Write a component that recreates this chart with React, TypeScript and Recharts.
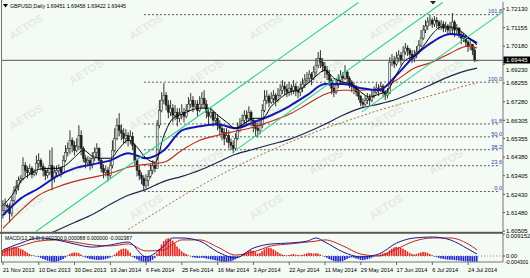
import React from 'react';
import { ComposedChart, Bar, Line, XAxis, YAxis, ReferenceLine, Cell } from 'recharts';

// ---------- palette / type ----------
const BG = '#f4faf4';
const INK = '#1e1e1e';
const FONT = "'Liberation Sans', Arial, sans-serif";
const GREEN = '#38d08e';

// ---------- header texts ----------
const symbolHeader = 'GBPUSD,Daily 1.69451 1.69458 1.69422 1.69445';
const macdHeader = 'MACD(12,26,9) 0.002300 0.000088 0.000000 -0.002387';
const watermark = 'AETOS';

// ---------- time axis ----------
const dateTickIdx = [0, 16, 32, 48, 64, 80, 96, 112, 128, 144, 160, 176, 192, 208];
const dateLabels = [
  '21 Nov 2013', '10 Dec 2013', '30 Dec 2013', '19 Jan 2014', '6 Feb 2014', '25 Feb 2014', '16 Mar 2014',
  '3 Apr 2014', '22 Apr 2014', '11 May 2014', '29 May 2014', '17 Jun 2014', '6 Jul 2014', '24 Jul 2014',
];

// ---------- price axis ----------
const priceTicks = [1.7213, 1.71155, 1.7018, 1.6923, 1.68255, 1.6728, 1.66305, 1.65355, 1.6438, 1.63405, 1.6243, 1.6148, 1.60505];
const lastPrice = 1.69445;
const tickUnderBox = 1.6923;

// ---------- daily bars (open = previous close) ----------
const firstOpen = 1.6138;
const closes = [
  1.6159, 1.6185, 1.6180, 1.6143, 1.6212, 1.6264, 1.6285, 1.6317, 1.6327, 1.6395,
  1.6369, 1.6358, 1.6379, 1.6348, 1.6358, 1.6406, 1.6421, 1.6390, 1.6369, 1.6343,
  1.6358, 1.6395, 1.6327, 1.6358, 1.6369, 1.6379, 1.6358, 1.6421, 1.6463, 1.6484,
  1.6526, 1.6500, 1.6474, 1.6494, 1.6552, 1.6484, 1.6432, 1.6411, 1.6421, 1.6395,
  1.6432, 1.6463, 1.6484, 1.6421, 1.6379, 1.6358, 1.6369, 1.6343, 1.6395, 1.6474,
  1.6536, 1.6605, 1.6578, 1.6563, 1.6536, 1.6552, 1.6526, 1.6547, 1.6500, 1.6421,
  1.6369, 1.6343, 1.6327, 1.6290, 1.6317, 1.6337, 1.6369, 1.6395, 1.6379, 1.6605,
  1.6683, 1.6736, 1.6762, 1.6710, 1.6673, 1.6694, 1.6657, 1.6673, 1.6641, 1.6662,
  1.6673, 1.6652, 1.6683, 1.6715, 1.6736, 1.6704, 1.6715, 1.6683, 1.6715, 1.6746,
  1.6715, 1.6673, 1.6652, 1.6673, 1.6631, 1.6641, 1.6605, 1.6589, 1.6568, 1.6536,
  1.6552, 1.6515, 1.6500, 1.6484, 1.6536, 1.6578, 1.6605, 1.6631, 1.6657, 1.6641,
  1.6673, 1.6631, 1.6605, 1.6589, 1.6578, 1.6605, 1.6683, 1.6736, 1.6757, 1.6725,
  1.6746, 1.6762, 1.6736, 1.6762, 1.6788, 1.6809, 1.6794, 1.6778, 1.6799, 1.6788,
  1.6809, 1.6788, 1.6778, 1.6799, 1.6820, 1.6841, 1.6851, 1.6872, 1.6851, 1.6883,
  1.6919, 1.6956, 1.6935, 1.6914, 1.6893, 1.6872, 1.6841, 1.6799, 1.6778, 1.6815,
  1.6841, 1.6862, 1.6851, 1.6883, 1.6851, 1.6830, 1.6809, 1.6799, 1.6778, 1.6757,
  1.6725, 1.6715, 1.6736, 1.6746, 1.6736, 1.6762, 1.6778, 1.6799, 1.6788, 1.6809,
  1.6778, 1.6762, 1.6773, 1.6935, 1.6946, 1.6925, 1.6956, 1.6972, 1.6946, 1.6988,
  1.7009, 1.6998, 1.6977, 1.6956, 1.6972, 1.6988, 1.7024, 1.7061, 1.7103, 1.7124,
  1.7145, 1.7155, 1.7134, 1.7155, 1.7145, 1.7124, 1.7134, 1.7113, 1.7124, 1.7103,
  1.7113, 1.7145, 1.7103, 1.7113, 1.7082, 1.7061, 1.7071, 1.7040, 1.7019, 1.7029,
  1.6998, 1.69451, 1.69445,
];
const highs = [
  1.6212, 1.6222, 1.6196, 1.6196, 1.6233, 1.6285, 1.6317, 1.6337, 1.6343, 1.6437,
  1.6411, 1.6390, 1.6400, 1.6390, 1.6374, 1.6447, 1.6458, 1.6432, 1.6406, 1.6385,
  1.6379, 1.6474, 1.6489, 1.6390, 1.6395, 1.6400, 1.6390, 1.6447, 1.6500, 1.6515,
  1.6578, 1.6541, 1.6521, 1.6536, 1.6605, 1.6578, 1.6494, 1.6447, 1.6442, 1.6437,
  1.6463, 1.6489, 1.6510, 1.6489, 1.6432, 1.6400, 1.6395, 1.6385, 1.6421, 1.6526,
  1.6589, 1.6641, 1.6668, 1.6610, 1.6589, 1.6584, 1.6568, 1.6578, 1.6568, 1.6510,
  1.6432, 1.6395, 1.6358, 1.6343, 1.6348, 1.6369, 1.6400, 1.6421, 1.6411, 1.6631,
  1.6736, 1.6778, 1.6825, 1.6778, 1.6736, 1.6736, 1.6715, 1.6710, 1.6694, 1.6694,
  1.6715, 1.6694, 1.6715, 1.6752, 1.6773, 1.6757, 1.6736, 1.6736, 1.6757, 1.6778,
  1.6788, 1.6736, 1.6694, 1.6694, 1.6683, 1.6673, 1.6662, 1.6631, 1.6610, 1.6589,
  1.6589, 1.6578, 1.6536, 1.6526, 1.6563, 1.6620, 1.6641, 1.6662, 1.6683, 1.6683,
  1.6704, 1.6683, 1.6641, 1.6631, 1.6620, 1.6631, 1.6715, 1.6788, 1.6788, 1.6767,
  1.6778, 1.6788, 1.6773, 1.6799, 1.6820, 1.6841, 1.6830, 1.6820, 1.6830, 1.6820,
  1.6841, 1.6825, 1.6809, 1.6825, 1.6851, 1.6872, 1.6883, 1.6893, 1.6883, 1.6914,
  1.6956, 1.6988, 1.6998, 1.6956, 1.6935, 1.6914, 1.6893, 1.6851, 1.6820, 1.6851,
  1.6872, 1.6893, 1.6883, 1.6919, 1.6893, 1.6862, 1.6841, 1.6830, 1.6815, 1.6799,
  1.6762, 1.6746, 1.6757, 1.6773, 1.6767, 1.6788, 1.6809, 1.6825, 1.6820, 1.6830,
  1.6820, 1.6788, 1.6799, 1.6961, 1.6977, 1.6967, 1.6988, 1.6998, 1.6988, 1.7019,
  1.7035, 1.7024, 1.7009, 1.6998, 1.6998, 1.7019, 1.7050, 1.7103, 1.7129, 1.7155,
  1.7171, 1.7182, 1.7166, 1.7176, 1.7171, 1.7155, 1.7155, 1.7150, 1.7145, 1.7134,
  1.7145, 1.7192, 1.7155, 1.7134, 1.7119, 1.7092, 1.7087, 1.7077, 1.7050, 1.7050,
  1.7029, 1.7014, 1.69458,
];
const lows = [
  1.6117, 1.6138, 1.6170, 1.6096, 1.6127, 1.6201, 1.6243, 1.6264, 1.6301, 1.6317,
  1.6337, 1.6327, 1.6343, 1.6327, 1.6337, 1.6343, 1.6379, 1.6369, 1.6337, 1.6317,
  1.6327, 1.6343, 1.6264, 1.6306, 1.6337, 1.6348, 1.6332, 1.6348, 1.6411, 1.6442,
  1.6453, 1.6463, 1.6447, 1.6463, 1.6474, 1.6447, 1.6411, 1.6379, 1.6390, 1.6369,
  1.6379, 1.6416, 1.6432, 1.6400, 1.6358, 1.6327, 1.6337, 1.6311, 1.6327, 1.6379,
  1.6463, 1.6526, 1.6547, 1.6526, 1.6505, 1.6510, 1.6494, 1.6505, 1.6474, 1.6395,
  1.6337, 1.6317, 1.6296, 1.6264, 1.6275, 1.6285, 1.6327, 1.6348, 1.6358, 1.6379,
  1.6589, 1.6673, 1.6715, 1.6683, 1.6641, 1.6652, 1.6620, 1.6631, 1.6599, 1.6620,
  1.6636, 1.6620, 1.6641, 1.6673, 1.6694, 1.6673, 1.6694, 1.6652, 1.6673, 1.6694,
  1.6694, 1.6641, 1.6610, 1.6641, 1.6599, 1.6605, 1.6578, 1.6552, 1.6526, 1.6500,
  1.6515, 1.6484, 1.6474, 1.6458, 1.6474, 1.6526, 1.6568, 1.6589, 1.6610, 1.6610,
  1.6620, 1.6599, 1.6568, 1.6547, 1.6541, 1.6557, 1.6589, 1.6673, 1.6715, 1.6699,
  1.6715, 1.6720, 1.6704, 1.6725, 1.6752, 1.6767, 1.6762, 1.6752, 1.6757, 1.6762,
  1.6767, 1.6757, 1.6746, 1.6757, 1.6778, 1.6799, 1.6820, 1.6830, 1.6815, 1.6841,
  1.6862, 1.6904, 1.6904, 1.6883, 1.6851, 1.6841, 1.6809, 1.6767, 1.6752, 1.6767,
  1.6799, 1.6820, 1.6825, 1.6841, 1.6820, 1.6799, 1.6778, 1.6767, 1.6757, 1.6736,
  1.6704, 1.6694, 1.6704, 1.6715, 1.6704, 1.6725, 1.6746, 1.6767, 1.6757, 1.6778,
  1.6752, 1.6736, 1.6746, 1.6767, 1.6914, 1.6904, 1.6914, 1.6935, 1.6919, 1.6946,
  1.6972, 1.6967, 1.6946, 1.6930, 1.6935, 1.6956, 1.6977, 1.7014, 1.7050, 1.7087,
  1.7103, 1.7124, 1.7113, 1.7119, 1.7113, 1.7103, 1.7103, 1.7092, 1.7092, 1.7082,
  1.7087, 1.7082, 1.7066, 1.7082, 1.7061, 1.7029, 1.7040, 1.7014, 1.6988, 1.6998,
  1.6972, 1.6935, 1.69422,
];

// ---------- moving averages (sampled along the bars) ----------
const fastIdx = [
  0, 4, 8, 12, 16, 20, 24, 28, 32, 36, 40, 44, 48, 52, 56, 60, 64, 68, 72, 76, 80, 84, 88, 92, 96, 100,
  104, 108, 112, 116, 120, 124, 128, 132, 136, 140, 144, 148, 152, 156, 160, 164, 168, 172, 176, 180,
  184, 188, 192, 196, 200, 204, 208, 212,
];
const fastMa = [
  1.6185, 1.6238, 1.6311, 1.6348, 1.6374, 1.6379, 1.6379, 1.6395, 1.6437, 1.6474, 1.6442, 1.6432, 1.6432,
  1.6484, 1.6526, 1.6489, 1.6432, 1.6411, 1.6552, 1.6641, 1.6662, 1.6683, 1.6694, 1.6694, 1.6657, 1.6621,
  1.6589, 1.6615, 1.6641, 1.6641, 1.6704, 1.6746, 1.6778, 1.6788, 1.6820, 1.6862, 1.6893, 1.6851, 1.6830,
  1.6820, 1.6778, 1.6752, 1.6767, 1.6788, 1.6872, 1.6946, 1.6967, 1.7019, 1.7082, 1.7119, 1.7119, 1.7103,
  1.7066, 1.7024,
];
const slowIdx = [
  0, 8, 16, 24, 32, 40, 48, 56, 64, 72, 80, 88, 96, 104, 112, 120, 128, 136, 144, 152, 160, 168, 176,
  184, 192, 200, 208, 212,
];
const blueMa = [
  1.6133, 1.6222, 1.6275, 1.6337, 1.6379, 1.6400, 1.6421, 1.6458, 1.6432, 1.6474, 1.6578, 1.6599, 1.6610,
  1.6589, 1.6620, 1.6657, 1.6704, 1.6762, 1.6820, 1.6820, 1.6799, 1.6788, 1.6867, 1.6967, 1.7040, 1.7082,
  1.7061, 1.7035,
];
const redMa = [
  1.6065, 1.6159, 1.6238, 1.6280, 1.6311, 1.6332, 1.6353, 1.6385, 1.6400, 1.6411, 1.6474, 1.6526, 1.6552,
  1.6573, 1.6594, 1.6626, 1.6662, 1.6715, 1.6767, 1.6788, 1.6788, 1.6794, 1.6841, 1.6904, 1.6935, 1.6982,
  1.7019, 1.7009,
];
const navyMa = [
  1.5939, 1.5970, 1.6012, 1.6054, 1.6096, 1.6138, 1.6191, 1.6238, 1.6269, 1.6311, 1.6337, 1.6369, 1.6411,
  1.6453, 1.6479, 1.6505, 1.6531, 1.6568, 1.6610, 1.6657, 1.6694, 1.6715, 1.6741, 1.6778, 1.6820, 1.6862,
  1.6893, 1.6904,
];
const dottedIdx = [56, 64, 72, 80, 88, 96, 104, 112, 120, 128, 136, 144, 152, 160, 168, 176, 184, 192, 200, 208, 212];
const dottedMa = [
  1.6059, 1.6117, 1.6175, 1.6233, 1.6285, 1.6337, 1.6385, 1.6432, 1.6474, 1.6515, 1.6552, 1.6589, 1.6620,
  1.6652, 1.6683, 1.6710, 1.6736, 1.6762, 1.6788, 1.6815, 1.6825,
];

// ---------- drawn objects ----------
// channel rays: [bar, price] -> [bar, price]
const channelLines = [
  { from: [14.72, 1.60486], to: [158.96, 1.72471] },
  { from: [102.86, 1.64642], to: [196.6, 1.72471] },
  { from: [160.55, 1.66745], to: [223.5, 1.71979] },
];
// Fibonacci retracement between the February low and high
const fibLow = 1.6258;
const fibHigh = 1.683;
const fibStartBar = 63;
const fibEndBar = 222.3;
const fibRatios = [0, 23.6, 38.2, 50, 61.8, 100, 161.8];

// ---------- MACD ----------
const histogram = [
  0.0025, 0.0030, 0.0033, 0.0035, 0.0036, 0.0037, 0.0036, 0.0034, 0.0030, 0.0026, 0.0020, 0.0014, 0.0008, 0.0004,
  0.0002, -0.0002, -0.0003,
  -0.0008, -0.0012, -0.0016, -0.0019, -0.0021, -0.0024, -0.0025, -0.0024, -0.0021, -0.0017, -0.0012, -0.0006,
  0.0003, 0.0008, 0.0012, 0.0015, 0.0014, 0.0012, 0.0006,
  -0.0002, -0.0006, -0.0009, -0.0012, -0.0014, -0.0015, -0.0016, -0.0017, -0.0016, -0.0015, -0.0013, -0.0010, -0.0006, -0.0002,
  0.0006, 0.0014, 0.0022, 0.0028, 0.0031, 0.0030, 0.0024, 0.0014,
  -0.0003, -0.0008, -0.0014, -0.0019, -0.0023, -0.0025, -0.0025, -0.0025, -0.0022, -0.0016, -0.0008,
  0.0010, 0.0030, 0.0048, 0.0062, 0.0070, 0.0074, 0.0072, 0.0064, 0.0052, 0.0040,
  0.0030, 0.0020, 0.0013, 0.0008,
  0.0003, -0.0002, -0.0005, -0.0007, -0.0008, -0.0008, -0.0007,
  -0.0008, -0.0010, -0.0012, -0.0014, -0.0016, -0.0018, -0.0020, -0.0022, -0.0024, -0.0025, -0.0025, -0.0024, -0.0022,
  -0.0019, -0.0014, -0.0008, -0.0002,
  0.0006, 0.0012, 0.0018, 0.0022, 0.0024, 0.0022, 0.0016, 0.0010,
  0.0012, 0.0020, 0.0028, 0.0033, 0.0034, 0.0032, 0.0028, 0.0022, 0.0016, 0.0010,
  0.0006, 0.0004, 0.0003, 0.0004, 0.0006, 0.0008, 0.0006, 0.0004, 0.0003, 0.0005, 0.0008, 0.0011, 0.0013, 0.0012,
  0.0010, 0.0012, 0.0010, 0.0006,
  0.0001, -0.0003,
  -0.0007, -0.0012, -0.0017, -0.0021, -0.0023, -0.0024, -0.0023, -0.0021, -0.0017, -0.0012,
  -0.0008, -0.0006, -0.0007,
  -0.0010, -0.0013, -0.0016, -0.0017, -0.0016, -0.0014, -0.0011, -0.0007, -0.0003,
  0.0001, 0.0004, 0.0007, 0.0010, 0.0012,
  0.0016, 0.0024, 0.0030, 0.0035, 0.0038, 0.0037, 0.0034, 0.0030, 0.0025, 0.0019,
  0.0013, 0.0008, 0.0006,
  0.0008, 0.0012, 0.0015, 0.0017, 0.0016, 0.0013, 0.0008, 0.0003,
  -0.0002, -0.0005, -0.0008, -0.0010, -0.0012, -0.0014, -0.0015, -0.0016, -0.0016, -0.0017, -0.0018, -0.0019,
  -0.0020, -0.0021, -0.0022, -0.0023, -0.0023, -0.0024, -0.0024, -0.002387,
];
const macdIdx = [0, 8, 16, 24, 32, 40, 48, 56, 64, 72, 76, 80, 88, 96, 104, 112, 120, 128, 136, 140, 144, 152, 160, 168, 176, 184, 192, 200, 208, 212];
const macdMain = [
  0.0025, 0.0054, 0.0075, 0.0067, 0.0050, 0.0037, 0.0046, 0.0058, -0.0004, 0.0042, 0.0075, 0.0075, 0.0062, 0.0017,
  -0.0008, 0.0033, 0.0050, 0.0054, 0.0062, 0.0075, 0.0058, 0.0017, -0.0004, 0.0008, 0.0054, 0.0075, 0.0079, 0.0067,
  0.0029, 0.0008,
];
const macdSignal = [
  0.0017, 0.0042, 0.0062, 0.0067, 0.0058, 0.0046, 0.0042, 0.0050, 0.0021, 0.0025, 0.0050, 0.0067, 0.0067, 0.0037,
  0.0004, 0.0017, 0.0042, 0.0050, 0.0058, 0.0062, 0.0067, 0.0042, 0.0008, 0.0, 0.0029, 0.0062, 0.0075, 0.0075,
  0.0050, 0.0025,
];
const macdTop = 0.009152;
const macdBottom = -0.0025;
const macdMinLabel = '-0.004301';

// ---------- table for the charts ----------
type Row = { [k: string]: any };
const rows: Row[] = closes.map((c, i) => ({
  i,
  o: i === 0 ? firstOpen : closes[i - 1],
  h: highs[i],
  l: lows[i],
  c,
  range: [lows[i], highs[i]],
  hist: histogram[i],
}));
const attach = (key: string, idx: number[], vals: number[]) => {
  idx.forEach((ix, k) => {
    rows[ix][key] = vals[k];
  });
};
attach('fast', fastIdx, fastMa);
attach('blue', slowIdx, blueMa);
attach('red', slowIdx, redMa);
attach('navy', slowIdx, navyMa);
attach('dotted', dottedIdx, dottedMa);
attach('macd', macdIdx, macdMain);
attach('signal', macdIdx, macdSignal);

const X_DOMAIN: [number, number] = [-0.447, 223.6];

// ---------- custom marks ----------
const Candle = (props: any) => {
  const { x, y, width, height, payload } = props;
  if (!payload || height == null) return null;
  const { o, h, l, c } = payload;
  const cx = x + width / 2;
  const k = h - l > 0 ? height / (h - l) : 0;
  const yO = y + (h - Math.min(Math.max(o, l), h)) * k;
  const yC = y + (h - c) * k;
  const top = Math.min(yO, yC);
  const bh = Math.max(Math.abs(yO - yC), 0.7);
  const bull = c >= o;
  return (
    <g>
      <line x1={cx} x2={cx} y1={y} y2={y + Math.max(height, 0.7)} stroke={INK} strokeWidth={0.9} />
      <rect x={cx - 1} y={top} width={2} height={bh} fill={bull ? '#dfe8df' : INK} stroke={INK} strokeWidth={0.5} />
    </g>
  );
};

const PriceTick = (p: any) => {
  const v = Number(p.payload.value);
  // the label hidden behind the last-price box peeks out just below it
  const shift = v === tickUnderBox ? 5 : 0;
  return (
    <text x={506} y={p.y + 2.2 + shift} fontSize={6} fontFamily={FONT} fill="#000">
      {v.toFixed(5)}
    </text>
  );
};

const DateTick = (p: any) => {
  const k = dateTickIdx.indexOf(p.payload.value);
  return (
    <text x={p.x} y={39} fontSize={5.6} fontFamily={FONT} fill="#000">
      {k >= 0 ? dateLabels[k] : ''}
    </text>
  );
};

const MacdTick = (p: any) => {
  const v = Number(p.payload.value);
  const label = v === 0 ? '0.00' : v.toFixed(6);
  return (
    <text x={506} y={p.y + (v === 0 ? 2 : 4.2)} fontSize={5.8} fontFamily={FONT} fill="#000">
      {label}
    </text>
  );
};

const FibLabel = (props: any) => {
  const vb = props.viewBox || {};
  const x = (vb.x ?? 0) + (vb.width ?? 0) + 2;
  const y = vb.y ?? 0;
  return (
    <text x={x} y={y - 1.2} textAnchor="end" fontSize={5.6} fontFamily={FONT} fill="#3346b0">
      {props.text}
    </text>
  );
};

const fmtFib = (r: number) => r.toFixed(1);

export default function App() {
  const marks: React.ReactNode[] = [];
  for (let r = 0; r < 5; r++) {
    for (let c = 0; c < 4; c++) {
      const x = c * 120 + (r % 2) * 60 + 12;
      const y = 40 + r * 45;
      marks.push(
        <text
          key={`wm-${r}-${c}`}
          x={x}
          y={y}
          transform={`rotate(-32 ${x} ${y})`}
          fontSize={11}
          fontWeight="bold"
          fontFamily={FONT}
          fill="#6f7f6f"
          opacity={0.12}
        >
          {watermark}
        </text>,
      );
    }
  }

  return (
    <div style={{ position: 'absolute', left: 0, top: 0, width: 530, height: 278, background: BG, overflow: 'hidden' }}>
      {/* price window */}
      <div style={{ position: 'absolute', left: 0, top: 0 }}>
        <ComposedChart width={530} height={233} data={rows} margin={{ top: 2, right: 0, bottom: 1, left: 2 }}>
          <XAxis type="number" dataKey="i" domain={X_DOMAIN} allowDataOverflow hide />
          <YAxis
            orientation="right"
            width={27}
            domain={[1.6046, 1.72497]}
            allowDataOverflow
            ticks={priceTicks}
            interval={0}
            tick={<PriceTick />}
            tickSize={2}
            tickLine={{ stroke: '#555' }}
            axisLine={{ stroke: '#777' }}
          />
          {fibRatios.map((r) => {
            const p = fibLow + (fibHigh - fibLow) * (r / 100);
            return (
              <ReferenceLine
                key={`fib-${r}`}
                segment={[{ x: fibStartBar, y: p }, { x: fibEndBar, y: p }]}
                stroke="#333"
                strokeDasharray="2 2"
                strokeWidth={0.8}
                label={<FibLabel text={fmtFib(r)} />}
              />
            );
          })}
          <ReferenceLine y={lastPrice} stroke="#555" strokeWidth={1} />
          <Bar dataKey="range" barSize={2} shape={<Candle />} isAnimationActive={false} />
          <Line dataKey="dotted" stroke="#b8663e" strokeWidth={1} strokeDasharray="2 2" dot={false} connectNulls type="monotone" isAnimationActive={false} />
          <Line dataKey="navy" stroke="#23234f" strokeWidth={1.2} dot={false} connectNulls type="monotone" isAnimationActive={false} />
          <Line dataKey="red" stroke="#c0281c" strokeWidth={1.1} dot={false} connectNulls type="monotone" isAnimationActive={false} />
          <Line dataKey="blue" stroke="#1515b4" strokeWidth={2} dot={false} connectNulls type="monotone" isAnimationActive={false} />
          <Line dataKey="fast" stroke="#000" strokeWidth={1} dot={false} connectNulls type="monotone" isAnimationActive={false} />
          {channelLines.map((ln, k) => (
            <ReferenceLine
              key={`ch-${k}`}
              segment={[{ x: ln.from[0], y: ln.from[1] }, { x: ln.to[0], y: ln.to[1] }]}
              stroke={GREEN}
              strokeWidth={1.1}
            />
          ))}
        </ComposedChart>
      </div>

      {/* MACD window with the time axis */}
      <div style={{ position: 'absolute', left: 0, top: 233 }}>
        <ComposedChart width={530} height={45} data={rows} margin={{ top: 1, right: 0, bottom: 0, left: 2 }}>
          <XAxis
            type="number"
            dataKey="i"
            domain={X_DOMAIN}
            allowDataOverflow
            ticks={dateTickIdx}
            interval={0}
            tick={<DateTick />}
            height={16}
            tickSize={3}
            tickLine={{ stroke: '#666' }}
            axisLine={{ stroke: '#777' }}
          />
          <YAxis
            orientation="right"
            width={27}
            domain={[macdBottom, macdTop]}
            allowDataOverflow
            ticks={[macdTop, 0]}
            interval={0}
            tick={<MacdTick />}
            tickSize={2}
            tickLine={{ stroke: '#555' }}
            axisLine={{ stroke: '#777' }}
          />
          <ReferenceLine y={0} stroke="#8a8a8a" strokeDasharray="1 2" />
          <Bar dataKey="hist" barSize={1.6} isAnimationActive={false}>
            {rows.map((r) => (
              <Cell key={`h-${r.i}`} fill={r.hist >= 0 ? '#e8231c' : '#1c22d8'} />
            ))}
          </Bar>
          <Line dataKey="signal" stroke="#c42222" strokeWidth={1} dot={false} connectNulls type="monotone" isAnimationActive={false} />
          <Line dataKey="macd" stroke="#1d1d90" strokeWidth={1} dot={false} connectNulls type="monotone" isAnimationActive={false} />
        </ComposedChart>
      </div>

      {/* window frame, captions and watermark */}
      <svg width={530} height={278} style={{ position: 'absolute', left: 0, top: 0, pointerEvents: 'none' }}>
        <g>{marks}</g>
        <line x1={1.5} x2={1.5} y1={0} y2={263} stroke="#777" strokeWidth={1} />
        <rect x={0} y={231.8} width={503} height={2} fill="#5a5a5a" />
        <polygon points="3,4 8,4 5.5,7.5" fill="#000" />
        <text x={10} y={8} fontSize={6.2} fontFamily={FONT} fill="#000" textLength={116} lengthAdjust="spacingAndGlyphs">
          {symbolHeader}
        </text>
        <polygon points="430,1 436,1 433,4.5" fill="#222" />
        <text x={5} y={240} fontSize={6} fontFamily={FONT} fill="#000" textLength={127} lengthAdjust="spacingAndGlyphs">
          {macdHeader}
        </text>
        <text x={505} y={263.5} fontSize={5.6} fontFamily={FONT} fill="#000" textLength={23.5} lengthAdjust="spacingAndGlyphs">
          {macdMinLabel}
        </text>
        <rect x={503.5} y={56.5} width={26.5} height={7} fill="#000" />
        <text x={506} y={62.3} fontSize={6} fontFamily={FONT} fill="#fff">
          {lastPrice.toFixed(5)}
        </text>
      </svg>
    </div>
  );
}
